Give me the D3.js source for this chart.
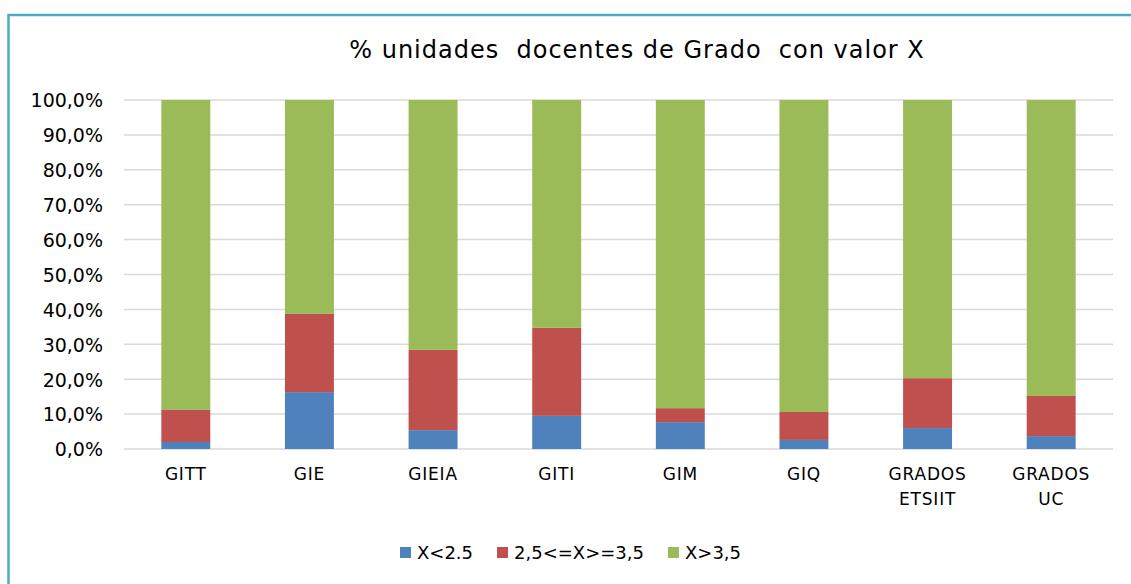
<!DOCTYPE html>
<html>
<head>
<meta charset="utf-8">
<script src="https://cdn.jsdelivr.net/npm/d3@7"></script>
<style>
  html, body { margin: 0; padding: 0; background: #fff; }
  svg { display: block; font-family: "DejaVu Sans", sans-serif; }
</style>
</head>
<body>
<div id="chart"></div>
<script>
// datos
var categories = ["GITT", "GIE", "GIEIA", "GITI", "GIM", "GIQ", "GRADOS ETSIIT", "GRADOS UC"];
var seriesNames = ["X<2.5", "2,5<=X>=3,5", "X>3,5"];
var low = [2.0, 16.3, 5.4, 9.5, 7.7, 2.6, 6.0, 3.7];
var mid = [9.2, 22.4, 23.0, 25.2, 4.0, 8.0, 14.3, 11.5];
var high = [88.8, 61.3, 71.6, 65.3, 88.3, 89.4, 79.7, 84.8];
var yTicks = [0, 10, 20, 30, 40, 50, 60, 70, 80, 90, 100];
var colors = ["#4f81bd", "#c0504d", "#9bbb59"];

var width = 1131, height = 584;
var margin = { top: 100, right: 18, bottom: 135, left: 124 };

var svg = d3.select("#chart").append("svg")
  .attr("width", width)
  .attr("height", height);

// marco del grafico
svg.append("rect")
  .attr("x", 8.5).attr("y", 15)
  .attr("width", width + 10).attr("height", height + 10)
  .attr("fill", "none")
  .attr("stroke", "#4bacc6")
  .attr("stroke-width", 2.5);

// titulo
svg.append("text")
  .attr("x", 637).attr("y", 58)
  .attr("text-anchor", "middle")
  .attr("font-size", 24)
  .attr("letter-spacing", 1)
  .attr("fill", "#000")
  .style("white-space", "pre")
  .text("% unidades  docentes de Grado  con valor X");

var x = d3.scaleBand()
  .domain(categories)
  .range([margin.left, width - margin.right])
  .paddingInner(0.604)
  .paddingOuter(0.302);

var y = d3.scaleLinear()
  .domain([0, 100])
  .range([height - margin.bottom, margin.top]);

// lineas de cuadricula
svg.append("g")
  .selectAll("line")
  .data(yTicks)
  .enter()
  .append("line")
  .attr("x1", margin.left)
  .attr("x2", width - margin.right)
  .attr("y1", function(d) { return y(d); })
  .attr("y2", function(d) { return y(d); })
  .attr("stroke", "#d9d9d9")
  .attr("stroke-width", 1.5);

// eje y
var yAxis = svg.append("g")
  .attr("transform", "translate(" + (margin.left - 21) + ",0)")
  .call(d3.axisLeft(y).tickValues(yTicks).tickSize(0)
    .tickFormat(function(d) { return d.toFixed(1).replace(".", ",") + "%"; }));
yAxis.select(".domain").remove();
yAxis.selectAll("text")
  .attr("font-size", 19)
  .attr("font-family", "DejaVu Sans, sans-serif")
  .attr("fill", "#000")
  .attr("x", 0)
  .attr("dy", "0.36em");

// barras apiladas
var rows = categories.map(function(c, i) {
  return { cat: c, low: low[i], mid: mid[i], high: high[i] };
});
var stack = d3.stack().keys(["low", "mid", "high"]);
var layers = stack(rows);

svg.append("g")
  .selectAll("g")
  .data(layers)
  .enter()
  .append("g")
  .attr("fill", function(d, i) { return colors[i]; })
  .selectAll("rect")
  .data(function(d) { return d; })
  .enter()
  .append("rect")
  .attr("x", function(d) { return x(d.data.cat); })
  .attr("width", x.bandwidth())
  .attr("y", function(d) { return y(d[1]); })
  .attr("height", function(d) { return y(d[0]) - y(d[1]); });

// eje x (etiquetas en dos lineas)
var xAxis = svg.append("g")
  .attr("transform", "translate(0," + (height - margin.bottom) + ")")
  .call(d3.axisBottom(x).tickSize(0));
xAxis.select(".domain").remove();
xAxis.selectAll("text")
  .attr("font-size", 17)
  .attr("font-family", "DejaVu Sans, sans-serif")
  .attr("letter-spacing", 0.8)
  .attr("fill", "#000")
  .each(function(d) {
    var t = d3.select(this);
    var words = d.split(" ");
    t.text(null).attr("y", 0).attr("dy", null);
    words.forEach(function(w, k) {
      t.append("tspan")
        .attr("x", 0)
        .attr("y", 31 + k * 25)
        .text(w);
    });
  });

// leyenda
var legend = svg.append("g").attr("transform", "translate(400,553)");
var lx = 0;
seriesNames.forEach(function(name, i) {
  var item = legend.append("g").attr("transform", "translate(" + lx + ",0)");
  item.append("rect")
    .attr("x", 0).attr("y", -6)
    .attr("width", 11).attr("height", 11)
    .attr("fill", colors[i]);
  var txt = item.append("text")
    .attr("x", 17).attr("y", 0)
    .attr("dy", "0.36em")
    .attr("font-size", 18)
    .attr("fill", "#000")
    .text(name);
  lx += 17 + txt.node().getComputedTextLength() + 24;
});
</script>
</body>
</html>
